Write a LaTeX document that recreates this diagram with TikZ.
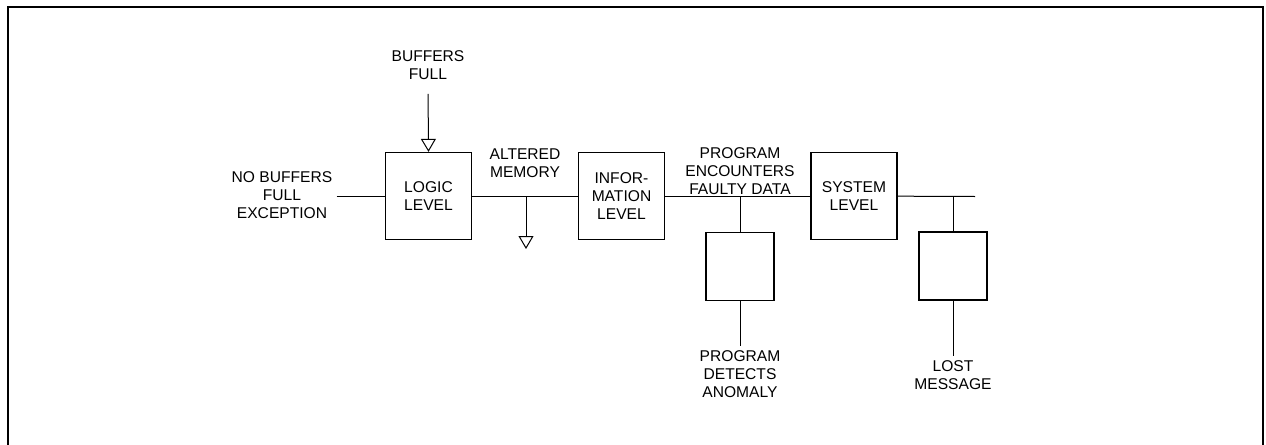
\documentclass[tikz,border=0pt]{standalone}
\usepackage{fontspec}
\setmainfont{Liberation Sans}
\usetikzlibrary{arrows.meta, positioning}

\begin{document}
\begin{tikzpicture}[
    x=0.5pt, y=-0.5pt,
    lbl/.style={align=center, font=\fontsize{7.8}{9}\selectfont, inner sep=2pt},
    level/.style={rectangle, draw=black, line width=0.65pt, align=center, font=\fontsize{7.8}{9}\selectfont, minimum width=43pt, minimum height=43.5pt, inner sep=0pt},
    blank/.style={rectangle, draw=black, line width=0.65pt, minimum width=34pt, minimum height=34pt, inner sep=0pt},
    wire/.style={line width=0.5pt},
    sink/.style={line width=0.5pt, -{Triangle[open, length=6.5pt, width=7.5pt]}}
]

\useasboundingbox (0,0) rectangle (1266,445);
\draw[line width=1pt] (8,445) -- (8,7) -- (1263,7) -- (1263,445);

\node[level] (logic) at (428.5,196) {LOGIC\\LEVEL};
\node[level] (info) at (621.5,196) {INFOR-\\MATION\\LEVEL};
\node[level] (sys) at (854,196) {SYSTEM\\LEVEL};
\node[blank] (det) at (740,266.5) {};
\node[blank] (lostbox) at (953,266) {};

\node[lbl] (bufs) at (428,65) {BUFFERS\\FULL};
\node[lbl] (nobuf) at (282,195) {NO BUFFERS\\FULL\\EXCEPTION};
\node[lbl] (altmem) at (525,163) {ALTERED\\MEMORY};
\node[lbl] (faulty) at (740,171) {PROGRAM\\ENCOUNTERS\\FAULTY DATA};
\node[lbl] (anomaly) at (740,374) {PROGRAM\\DETECTS\\ANOMALY};
\node[lbl] (lostmsg) at (953,375) {LOST\\MESSAGE};

\coordinate (altjoin) at (526,196.5);
\coordinate (altend) at (526,249);
\coordinate (faultjoin) at (740,196.5);
\coordinate (lostjoin) at (953,196.5);
\coordinate (sysout) at (975,196.5);

\draw[wire] (nobuf.east |- logic.west) -- (logic.west);
\draw[wire] (logic) -- (info);
\draw[wire] (info) -- (sys);
\draw[wire] (sys) -- (sysout);
\draw[sink] (altjoin) -- (altend);
\draw[sink, shorten <=5pt] (bufs.south) -- (logic.north);
\draw[wire] (faultjoin) -- (det);
\draw[wire] (det) -- (anomaly);
\draw[wire] (lostjoin) -- (lostbox);
\draw[wire] (lostbox) -- (lostmsg);

\end{tikzpicture}
\end{document}
